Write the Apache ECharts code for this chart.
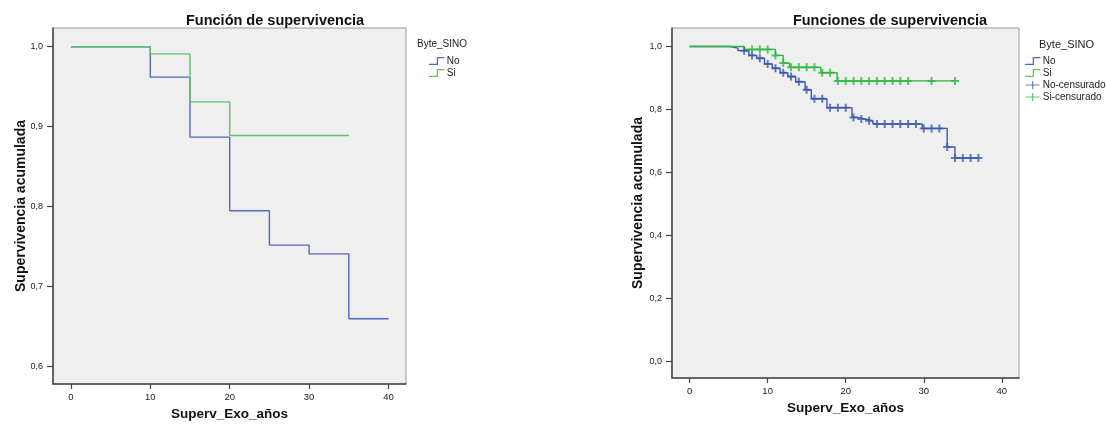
<!DOCTYPE html>
<html><head><meta charset="utf-8">
<script src="https://cdn.jsdelivr.net/npm/echarts@6/dist/echarts.min.js"></script>
<style>html,body{margin:0;padding:0;background:#fff}#c{width:1106px;height:427px}</style>
</head><body><div id="c"></div>
<script>
// ---- Left chart: Función de supervivencia ----
const leftNoTime = [0, 10, 15, 20, 25, 30, 35, 40];
const leftNoSurv = [1.0, 0.962, 0.887, 0.795, 0.752, 0.741, 0.660, 0.660];
const leftSiTime = [0, 10, 15, 20, 35];
const leftSiSurv = [1.0, 0.991, 0.931, 0.889, 0.889];
const leftYTicks = [0.6, 0.7, 0.8, 0.9, 1.0];
const xTicks = [0, 10, 20, 30, 40];

// ---- Right chart: Funciones de supervivencia ----
const rightNoTime = [0, 5.2, 6.2, 7.6, 8.6, 9.6, 10.6, 11.6, 12.6, 13.6, 14.8, 15.6, 17.6, 20.8, 21.5, 22.5, 23.5, 29.8, 33.0, 34.0, 37.0];
const rightNoSurv = [1.0, 0.995, 0.987, 0.972, 0.963, 0.945, 0.931, 0.917, 0.905, 0.888, 0.863, 0.834, 0.806, 0.775, 0.770, 0.764, 0.754, 0.740, 0.681, 0.646, 0.646];
const rightNoCensTime = [7, 8, 9, 10, 11, 12, 13, 14, 15, 16, 17, 18, 19, 20, 21, 22, 23, 24, 25, 26, 27, 28, 29, 30, 31, 32, 33, 34, 35, 36, 37];
const rightNoCensSurv = [0.987, 0.972, 0.963, 0.945, 0.931, 0.917, 0.905, 0.888, 0.863, 0.834, 0.834, 0.806, 0.806, 0.806, 0.775, 0.770, 0.764, 0.754, 0.754, 0.754, 0.754, 0.754, 0.754, 0.740, 0.740, 0.740, 0.681, 0.646, 0.646, 0.646, 0.646];
const rightSiTime = [0, 7.0, 11.0, 12.0, 12.8, 16.8, 18.9, 34.0];
const rightSiSurv = [1.0, 0.991, 0.972, 0.948, 0.934, 0.917, 0.891, 0.891];
const rightSiCensTime = [8, 9, 10, 11, 12, 13, 14, 15, 16, 17, 18, 19, 20, 21, 22, 23, 24, 25, 26, 27, 28, 31, 34];
const rightSiCensSurv = [0.991, 0.991, 0.991, 0.972, 0.948, 0.934, 0.934, 0.934, 0.934, 0.917, 0.917, 0.891, 0.891, 0.891, 0.891, 0.891, 0.891, 0.891, 0.891, 0.891, 0.891, 0.891, 0.891];
const rightYTicks = [0.0, 0.2, 0.4, 0.6, 0.8, 1.0];

const zip = (a, b) => a.map((v, i) => [v, b[i]]);
const FONT = 'Liberation Sans';
const BLUE = '#3e58ac', GREEN = '#2db83d';
const BLUE_L = '#5468bd', GREEN_L = '#5cc46b';
const STEP_ICON = 'path://M0,7 L8,7 L8,0 L16,0 L16,1.3 L9.3,1.3 L9.3,8.3 L0,8.3 Z';
const CENS_ICON = 'path://M0,3.5 L6.4,3.5 L6.4,0 L7.6,0 L7.6,3.5 L14,3.5 L14,4.7 L7.6,4.7 L7.6,8.2 L6.4,8.2 L6.4,4.7 L0,4.7 Z';
const PLUS = 'path://M0,3 L3,3 L3,0 L5,0 L5,3 L8,3 L8,5 L5,5 L5,8 L3,8 L3,5 L0,5 Z';
const fmt = v => v.toFixed(1).replace('.', ',');

function xAxis(gi) {
  return {
    type: 'value', gridIndex: gi, min: -2.25, max: 42.2,
    name: 'Superv_Exo_años', nameLocation: 'middle', nameGap: 23, nameMoveOverlap: false,
    nameTextStyle: {fontFamily: FONT, fontSize: 13.5, fontWeight: 'bold', color: '#111'},
    axisLine: {onZero: false, lineStyle: {color: '#444', width: 1.5}},
    axisTick: {show: true, length: 5, customValues: xTicks, lineStyle: {color: '#444', width: 1.2}},
    axisLabel: {customValues: xTicks, margin: 8, fontFamily: FONT, fontSize: 9.5, color: '#222'},
    splitLine: {show: false}
  };
}
function yAxis(gi, min, max, ticks, gap) {
  return {
    type: 'value', gridIndex: gi, min: min, max: max,
    name: 'Supervivencia acumulada', nameLocation: 'middle', nameGap: gap, nameMoveOverlap: false,
    nameTextStyle: {fontFamily: FONT, fontSize: 14, fontWeight: 'bold', color: '#111'},
    axisLine: {show: true, onZero: false, lineStyle: {color: '#444', width: 1.5}},
    axisTick: {show: true, length: 6, customValues: ticks, lineStyle: {color: '#444', width: 1.2}},
    axisLabel: {customValues: ticks, margin: 10, formatter: fmt, fontFamily: FONT, fontSize: 9, color: '#222'},
    splitLine: {show: false}
  };
}

const chart = echarts.init(document.getElementById('c'), null, {renderer: 'canvas'});
chart.setOption({
  animation: false,
  backgroundColor: '#ffffff',
  title: [
    {text: 'Función de supervivencia', left: 270, top: 8, textAlign: 'center',
     textStyle: {fontFamily: FONT, fontSize: 14.5, fontWeight: 'bold', color: '#111'}},
    {text: 'Funciones de supervivencia', left: 885, top: 8, textAlign: 'center',
     textStyle: {fontFamily: FONT, fontSize: 14.5, fontWeight: 'bold', color: '#111'}},
    {text: 'Byte_SINO', left: 412, top: 34, textStyle: {fontFamily: FONT, fontSize: 10, fontWeight: 'normal', color: '#222'}},
    {text: 'Byte_SINO', left: 1034, top: 34, textStyle: {fontFamily: FONT, fontSize: 11, fontWeight: 'normal', color: '#222'}}
  ],
  grid: [
    {left: 53, top: 28, width: 353, height: 356, show: true, backgroundColor: '#efefef', borderColor: '#999', borderWidth: 1},
    {left: 672, top: 28, width: 347, height: 350, show: true, backgroundColor: '#efefef', borderColor: '#999', borderWidth: 1}
  ],
  legend: [
    {orient: 'vertical', left: 424, top: 51, itemWidth: 16, itemHeight: 8, itemGap: 2,
     textStyle: {fontFamily: FONT, fontSize: 10, color: '#222', padding: [0, 0, 0, -3]},
     itemStyle: {borderWidth: 0},
     data: [{name: 'No', icon: STEP_ICON}, {name: 'Si', icon: STEP_ICON}]},
    {orient: 'vertical', left: 1020, top: 51, itemWidth: 16, itemHeight: 8, itemGap: 2,
     textStyle: {fontFamily: FONT, fontSize: 10, color: '#222', padding: [0, 0, 0, -3]},
     itemStyle: {borderWidth: 0},
     data: [{name: 'No', icon: STEP_ICON}, {name: 'Si', icon: STEP_ICON},
            {name: 'No-censurado', icon: CENS_ICON}, {name: 'Si-censurado', icon: CENS_ICON}]}
  ],
  xAxis: [xAxis(0), xAxis(1)],
  yAxis: [yAxis(0, 0.5784, 1.0234, leftYTicks, 25), yAxis(1, -0.053, 1.059, rightYTicks, 27)],
  series: [
    {name: 'No', type: 'line', step: 'end', xAxisIndex: 0, yAxisIndex: 0, showSymbol: false, symbol: 'none',
     color: BLUE_L, lineStyle: {width: 1.4, color: BLUE_L}, data: zip(leftNoTime, leftNoSurv)},
    {name: 'Si', type: 'line', step: 'end', xAxisIndex: 0, yAxisIndex: 0, showSymbol: false, symbol: 'none',
     color: GREEN_L, lineStyle: {width: 1.4, color: GREEN_L}, data: zip(leftSiTime, leftSiSurv)},
    {name: 'No', type: 'line', step: 'end', xAxisIndex: 1, yAxisIndex: 1, showSymbol: false, symbol: 'none',
     color: BLUE_L, lineStyle: {width: 1.4, color: BLUE}, data: zip(rightNoTime, rightNoSurv)},
    {name: 'Si', type: 'line', step: 'end', xAxisIndex: 1, yAxisIndex: 1, showSymbol: false, symbol: 'none',
     color: GREEN_L, lineStyle: {width: 1.4, color: GREEN}, data: zip(rightSiTime, rightSiSurv)},
    {name: 'No-censurado', type: 'scatter', xAxisIndex: 1, yAxisIndex: 1, symbol: PLUS, symbolSize: 8,
     color: BLUE, itemStyle: {color: BLUE}, z: 5, data: zip(rightNoCensTime, rightNoCensSurv)},
    {name: 'Si-censurado', type: 'scatter', xAxisIndex: 1, yAxisIndex: 1, symbol: PLUS, symbolSize: 8,
     color: GREEN, itemStyle: {color: GREEN}, z: 5, data: zip(rightSiCensTime, rightSiCensSurv)}
  ]
});
</script>
</body></html>
